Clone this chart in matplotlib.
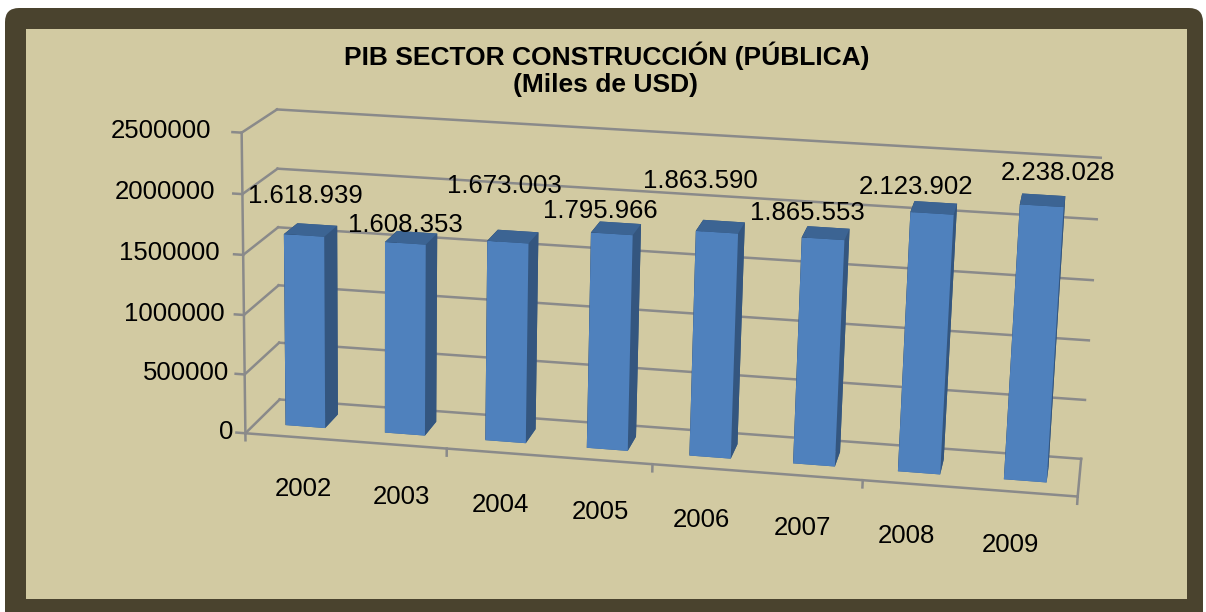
"""PIB sector construccion (publica) - 3D column chart."""

import matplotlib

matplotlib.use("Agg")
import matplotlib.pyplot as plt
import numpy as np
from matplotlib.patches import FancyBboxPatch, Rectangle

plt.rcParams["font.family"] = ["Liberation Sans", "DejaVu Sans"]

# data
years = ["2002", "2003", "2004", "2005", "2006", "2007", "2008", "2009"]
values = [1618939, 1608353, 1673003, 1795966, 1863590, 1865553, 2123902, 2238028]
value_labels = ["1.618.939", "1.608.353", "1.673.003", "1.795.966",
                "1.863.590", "1.865.553", "2.123.902", "2.238.028"]
z_ticks = [0, 500000, 1000000, 1500000, 2000000, 2500000]

# where Excel put each value label relative to its bar top (staggered)
label_lift = [285000, 105000, 410000, 130000, 360000, 155000, 155000, 225000]
label_dx = [-0.05, -0.06, -0.09, -0.16, -0.2, -0.18, -0.18, 0.12]

BG = "#d2caa2"
FRAME = "#4a432e"
GRID = "#8a8a8a"
FRONT = "#4f81bd"
SIDE = "#34567f"
TOP = "#3c6493"
LEFT = "#1f3552"

W, H = 12.06, 6.12
fig = plt.figure(figsize=(W, H), dpi=100)
fig.patch.set_facecolor("white")

# dark frame with rounded corners + inner panel (inches)
fig.add_artist(FancyBboxPatch((0.05, -0.3), 11.98, 6.34,
                              boxstyle="round,pad=0,rounding_size=0.14",
                              transform=fig.dpi_scale_trans,
                              facecolor=FRAME, edgecolor="none", zorder=-2))
fig.add_artist(Rectangle((0.26, 0.13), 11.61, 5.70,
                         transform=fig.dpi_scale_trans,
                         facecolor=BG, edgecolor="none", zorder=-1))

fig.text(0.503, 0.894, "PIB SECTOR CONSTRUCCIÓN (PÚBLICA)", ha="center",
         va="baseline", fontsize=19, fontweight="bold")
fig.text(0.502, 0.850, "(Miles de USD)", ha="center", va="baseline",
         fontsize=19, fontweight="bold")

# square 3D axes as wide as the figure (3D axes are always drawn square)
cy = 0.487
ax = fig.add_axes([0.039, cy - W / H / 2, 1.0, W / H], projection="3d",
                  computed_zorder=False)
ax.set_zorder(1)
ax.patch.set_alpha(0)
ax.set_axis_off()
ax.set_proj_type("persp", focal_length=0.45)
ax.view_init(elev=15, azim=-81, roll=-1.5)

n = len(years)
depth = 1.0
zmax = z_ticks[-1]
ax.set_xlim(0, n)
ax.set_ylim(0, depth)
ax.set_zlim(0, zmax)
ax.set_box_aspect((n, 1.15, 2.97), zoom=0.727)

line_kw = dict(color=GRID, lw=1.8, zorder=1, clip_on=False)

# walls: back wall and left wall gridlines, ticks on the value axis
for z in z_ticks:
    ax.plot([0, n], [depth, depth], [z, z], **line_kw)
    ax.plot([0, 0], [0, depth], [z, z], **line_kw)
    ax.plot([-0.09, 0], [0, 0], [z, z], **line_kw)

# value axis and floor edges
ax.plot([0, 0], [0, 0], [0, zmax], **line_kw)
ax.plot([0, n], [0, 0], [0, 0], **line_kw)
ax.plot([n, n], [0, depth], [0, 0], **line_kw)
for xt in range(0, n + 1, 2):
    ax.plot([xt, xt], [0, 0], [0, -60000], **line_kw)

# bars
xs = np.arange(n) + 0.5
bw = 0.4
bd = 0.4
face_colors = [TOP, TOP, FRONT, SIDE, LEFT, SIDE] * n
bars = ax.bar3d(xs - bw / 2, np.full(n, depth / 2 - bd / 2), np.zeros(n),
                bw, bd, values, color=face_colors, shade=False, zorder=2)
bars.set_clip_on(False)

# texts: project the 3D anchor with the axes' own matrix, then draw in 2D
fig.canvas.draw()


def to_2d(x, y, z):
    v = ax.M @ np.array([x, y, z, 1.0])
    return v[0] / v[3], v[1] / v[3]


for z in z_ticks:
    px, py = to_2d(-0.12 - 0.18 * z / zmax, 0, z)
    ax.text2D(px, py, f"{z}", transform=ax.transData, ha="right",
              va="center", fontsize=18.5, zorder=5)

for i in range(n):
    px, py = to_2d(xs[i] + label_dx[i], depth / 2, values[i] + label_lift[i])
    ax.text2D(px, py, value_labels[i], transform=ax.transData, ha="center",
              va="center", fontsize=18.5, zorder=5)
    px, py = to_2d(xs[i] + 0.08 - 0.025 * i, 0, -440000)
    ax.text2D(px, py, years[i], transform=ax.transData, ha="center",
              va="center", fontsize=18.5, zorder=5)

fig.savefig("out.png", dpi=100, facecolor=fig.get_facecolor())
